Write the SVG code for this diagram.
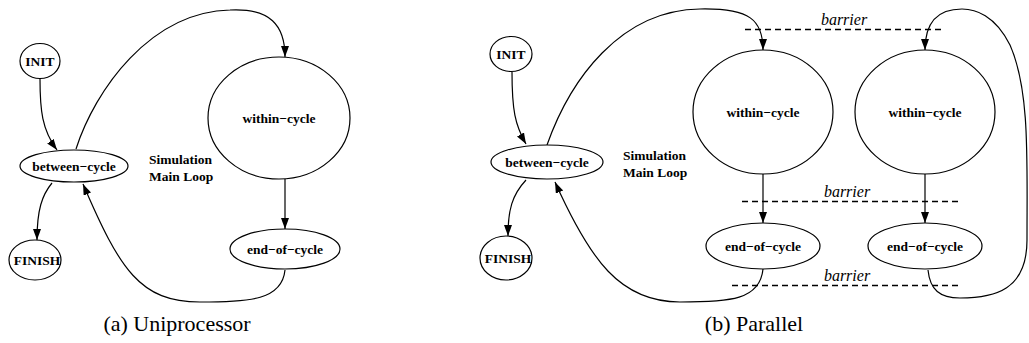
<svg xmlns="http://www.w3.org/2000/svg" width="1029" height="343" viewBox="0 0 1029 343">
<defs>
<marker id="ah" markerUnits="userSpaceOnUse" markerWidth="12" markerHeight="10" refX="11" refY="4" orient="auto">
<path d="M0,0 L11,4 L0,8 Z" fill="#000"/>
</marker>
<style>
.n{fill:#fff;stroke:#000;stroke-width:1.2}
.t{font-family:"Liberation Serif","Times New Roman",serif;font-weight:bold;font-size:13.5px;text-anchor:middle}
.e{fill:none;stroke:#000;stroke-width:1.2;marker-end:url(#ah)}
.b{stroke:#000;stroke-width:1.4;stroke-dasharray:6 4}
.bt{font-family:"Liberation Serif","Times New Roman",serif;font-style:italic;font-size:16px;text-anchor:middle}
.cap{font-family:"Liberation Serif","Times New Roman",serif;font-size:22px;text-anchor:middle}
</style>
</defs>
<rect width="1029" height="343" fill="#fff"/>
<g id="connectors">
<path class="e" d="M40,79 C40,110 42,130 57,150"/>
<path class="e" d="M76,149 C95,90 150,12 230,10 C270,8 285,25 285,57"/>
<path class="e" d="M52,183 C42,195 37,210 37,240"/>
<path class="e" d="M285,179 L285,229"/>
<path class="e" d="M285,270 C282,300 250,302 200,302 C140,302 120,270 83,184"/>
<path class="e" d="M512,72 C512,110 515,125 526,144"/>
<path class="e" d="M526,180 C512,195 508,210 508,236"/>
<path class="e" d="M547,145 C570,80 620,10 700,9 C750,8 763,20 763,50"/>
<path class="e" d="M763,174 L763,223"/>
<path class="e" d="M925,174 L925,223"/>
<path class="e" d="M763,269 C760,300 730,302 680,302 C620,302 590,260 555,182"/>
<path class="e" d="M928,270 C930,290 940,298 960,298 C995,298 1027,290 1027,240 C1027,160 1030,90 1010,45 C995,15 975,9 962,9 C940,9 925,20 925,50"/>
</g>
<g id="barriers">
<line class="b" x1="745" y1="29.5" x2="943" y2="29.5"/>
<text class="bt" x="844" y="25">barrier</text>
<line class="b" x1="742" y1="201.5" x2="962" y2="201.5"/>
<text class="bt" x="847" y="197">barrier</text>
<line class="b" x1="732" y1="285.5" x2="962" y2="285.5"/>
<text class="bt" x="847" y="281">barrier</text>
</g>
<g id="a-init"><ellipse class="n" cx="40" cy="61" rx="20" ry="17.5"/><text class="t" x="40" y="66">INIT</text></g>
<g id="a-between"><ellipse class="n" cx="74" cy="166" rx="54" ry="16"/><text class="t" x="74" y="171">between−cycle</text></g>
<g id="a-finish"><ellipse class="n" cx="35" cy="260" rx="26" ry="20"/><text class="t" x="37" y="265">FINISH</text></g>
<g id="a-within"><ellipse class="n" cx="279" cy="118" rx="71" ry="61"/><text class="t" x="279" y="123">within−cycle</text></g>
<g id="a-end"><ellipse class="n" cx="285" cy="249" rx="55" ry="20"/><text class="t" x="285" y="254">end−of−cycle</text></g>
<g id="a-label"><text class="t" style="text-anchor:start" x="149" y="164">Simulation</text><text class="t" style="text-anchor:start" x="149" y="181">Main Loop</text></g>
<g id="b-init"><ellipse class="n" cx="511" cy="54" rx="21" ry="17.5"/><text class="t" x="511" y="59">INIT</text></g>
<g id="b-between"><ellipse class="n" cx="547" cy="162" rx="56" ry="17"/><text class="t" x="547" y="167">between−cycle</text></g>
<g id="b-finish"><ellipse class="n" cx="506" cy="258" rx="26" ry="22"/><text class="t" x="508" y="263">FINISH</text></g>
<g id="b-label"><text class="t" style="text-anchor:start" x="623" y="160">Simulation</text><text class="t" style="text-anchor:start" x="623" y="177">Main Loop</text></g>
<g id="b-within1"><ellipse class="n" cx="763" cy="112" rx="70" ry="62"/><text class="t" x="763" y="117">within−cycle</text></g>
<g id="b-within2"><ellipse class="n" cx="925" cy="112" rx="70" ry="62"/><text class="t" x="925" y="117">within−cycle</text></g>
<g id="b-end1"><ellipse class="n" cx="763" cy="246" rx="57" ry="23"/><text class="t" x="763" y="251">end−of−cycle</text></g>
<g id="b-end2"><ellipse class="n" cx="925" cy="246" rx="57" ry="23"/><text class="t" x="925" y="251">end−of−cycle</text></g>
<text class="cap" x="177" y="331">(a) Uniprocessor</text>
<text class="cap" x="754" y="331">(b) Parallel</text>
</svg>
